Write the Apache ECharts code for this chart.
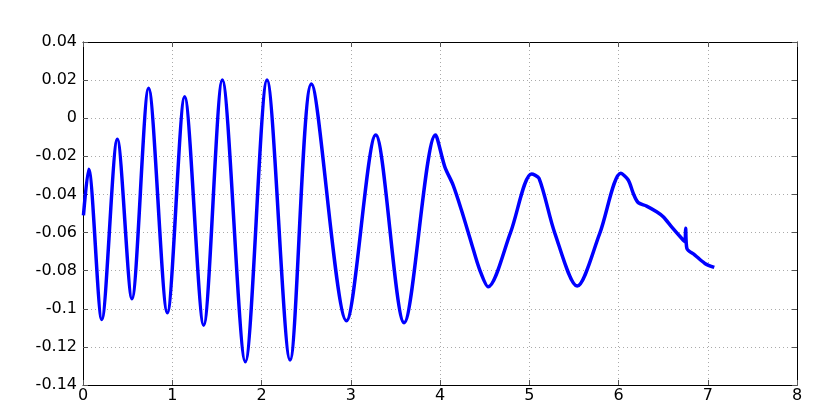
<!DOCTYPE html>
<html>
<head>
<meta charset="utf-8">
<script src="https://cdn.jsdelivr.net/npm/echarts@6/dist/echarts.min.js"></script>
<style>html,body{margin:0;padding:0;background:#fff}#c{width:830px;height:415px}</style>
</head>
<body>
<div id="c"></div>
<script>
var xs = [0.005,0.063,0.210,0.385,0.548,0.735,0.945,1.139,1.352,1.561,1.819,2.062,2.320,2.559,2.952,3.280,3.598,3.950,4.054,4.147,4.240,4.353,4.446,4.539,4.790,5.026,5.110,5.287,5.537,5.790,6.027,6.109,6.165,6.221,6.315,6.427,6.501,6.595,6.707,6.744,6.752,6.766,6.856,6.968,7.073];
var ys = [-0.051,-0.0268,-0.1056,-0.0111,-0.0947,0.0157,-0.1021,0.0113,-0.1086,0.0200,-0.1278,0.0200,-0.1269,0.0180,-0.1063,-0.0088,-0.1073,-0.0088,-0.0255,-0.0351,-0.0482,-0.0657,-0.0797,-0.0885,-0.0600,-0.0293,-0.0316,-0.0604,-0.0881,-0.0604,-0.0289,-0.0324,-0.0394,-0.0443,-0.0461,-0.0491,-0.0517,-0.0570,-0.0630,-0.0648,-0.0578,-0.0683,-0.0718,-0.0762,-0.0783];
var xMin = 0, xMax = 8, xStep = 1;
var yMin = -0.14, yMax = 0.04, yStep = 0.02;

var data = xs.map(function (x, i) { return [x, ys[i]]; });
var font = { color: '#000', fontSize: 16, fontFamily: 'DejaVu Sans' };
var grid = { show: true, lineStyle: { color: '#aaa', type: [1, 3], width: 1 } };
var line = { show: true, onZero: false, lineStyle: { color: '#000', width: 1 } };
var tick = { show: true, inside: true, length: 5, lineStyle: { color: '#555' } };
function fmt(v) { return String(parseFloat(v.toFixed(2))); }

var chart = echarts.init(document.getElementById('c'), null, { renderer: 'canvas' });
chart.setOption({
  animation: false,
  backgroundColor: '#fff',
  grid: { left: 83, right: 33, top: 42, bottom: 30, containLabel: false },
  xAxis: [
    { type: 'value', min: xMin, max: xMax, interval: xStep, position: 'bottom',
      axisLine: line, axisTick: tick, splitLine: grid,
      axisLabel: Object.assign({ margin: 3, formatter: fmt }, font) },
    { type: 'value', min: xMin, max: xMax, interval: xStep, position: 'top',
      axisLine: line, axisTick: tick, splitLine: { show: false }, axisLabel: { show: false } }
  ],
  yAxis: [
    { type: 'value', min: yMin, max: yMax, interval: yStep, position: 'left',
      axisLine: line, axisTick: tick, splitLine: grid,
      axisLabel: Object.assign({ margin: 6, formatter: fmt }, font) },
    { type: 'value', min: yMin, max: yMax, interval: yStep, position: 'right',
      axisLine: line, axisTick: tick, splitLine: { show: false }, axisLabel: { show: false } }
  ],
  series: [{
    type: 'line', data: data, showSymbol: false, smooth: 0.3,
    lineStyle: { color: '#0000ff', width: 3.5 }, itemStyle: { color: '#0000ff' }
  }]
});
</script>
</body>
</html>
